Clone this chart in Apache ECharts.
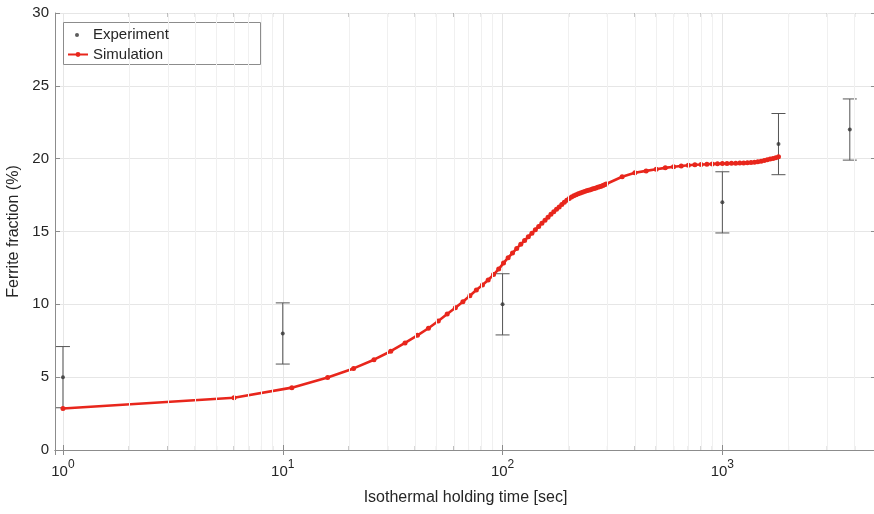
<!DOCTYPE html>
<html>
<head>
<meta charset="utf-8">
<script src="https://cdn.jsdelivr.net/npm/echarts@6/dist/echarts.min.js"></script>
<style>
  html, body { margin: 0; padding: 0; background: #fff; }
  #chart { width: 874px; height: 514px; }
</style>
</head>
<body>
<div id="chart"></div>
<script>
// Measured ferrite fraction with its scatter band
const expTime = [1, 10, 100, 1000, 1800, 3800];
const expFraction = [5.0, 8.0, 10.0, 17.0, 21.0, 22.0];
const expError = [2.1, 2.1, 2.1, 2.1, 2.1, 2.1];

// Simulated ferrite fraction over isothermal holding time (sec)
const simTime = [
  1, 6, 11, 16, 21, 26, 31, 36, 41, 46, 51, 56, 61, 66, 71, 76, 81, 86, 91, 96,
  101, 106, 111, 116, 121, 126, 131, 136, 141, 146, 151, 156, 161, 166, 171, 176, 181, 186, 191, 196,
  201, 206, 211, 216, 221, 226, 231, 236, 241, 246, 251, 256, 261, 266, 271, 276, 281, 286, 291, 296,
  350, 400, 450, 500, 550, 600, 650, 700, 750, 800, 850, 900, 950, 1000, 1050,
  1100, 1150, 1200, 1250, 1300, 1350, 1400, 1450, 1500, 1550, 1600, 1650, 1700, 1750, 1800
];
const simFraction = [
  2.85, 3.59, 4.28, 4.98, 5.60, 6.20, 6.78, 7.35, 7.87, 8.36, 8.86, 9.33, 9.76, 10.18, 10.59, 10.98, 11.33, 11.67, 12.04, 12.42,
  12.83, 13.20, 13.52, 13.84, 14.12, 14.38, 14.64, 14.88, 15.12, 15.35, 15.57, 15.78, 15.98, 16.18, 16.35, 16.52, 16.69, 16.85, 17.00, 17.14,
  17.27, 17.37, 17.46, 17.53, 17.59, 17.65, 17.70, 17.75, 17.79, 17.83, 17.87, 17.91, 17.95, 17.99, 18.03, 18.07, 18.11, 18.16, 18.21, 18.26,
  18.76, 19.03, 19.16, 19.27, 19.37, 19.45, 19.50, 19.55, 19.58, 19.60, 19.62, 19.64, 19.65, 19.66, 19.67,
  19.68, 19.69, 19.70, 19.71, 19.72, 19.74, 19.76, 19.79, 19.83, 19.87, 19.92, 19.97, 20.02, 20.07, 20.13
];

// Axis limits and the logarithmic minor tick positions
const xMin = 0.92;
const xMax = 5000;
const yMin = 0;
const yMax = 30;
const yStep = 5;
const xMinorTicks = [2, 3, 4, 5, 6, 7, 8, 9, 20, 30, 40, 50, 60, 70, 80, 90,
  200, 300, 400, 500, 600, 700, 800, 900, 2000, 3000, 4000];

const FONT = '"Liberation Sans", Arial, Helvetica, sans-serif';
const TEXT = '#262626';
const AXIS = '#8c8c8c';
const GRID = '#e6e6e6';
const MINOR_GRID = '#f0f0f0';
const RED = '#e8261c';

const chart = echarts.init(document.getElementById('chart'), null, { renderer: 'canvas' });

function powerLabel(v) {
  const p = Math.log10(v);
  const n = Math.round(p);
  if (Math.abs(p - n) > 0.01) return '';
  return '{b|10}{s|' + n + '}';
}

function errorBar(params, api) {
  const x = api.value(0), y = api.value(1), e = api.value(2);
  const hi = api.coord([x, y + e]);
  const lo = api.coord([x, y - e]);
  const w = 7;
  const style = { stroke: '#555', lineWidth: 1 };
  return {
    type: 'group',
    children: [
      { type: 'line', shape: { x1: hi[0], y1: hi[1], x2: lo[0], y2: lo[1] }, style },
      { type: 'line', shape: { x1: hi[0] - w, y1: hi[1], x2: hi[0] + w, y2: hi[1] }, style },
      { type: 'line', shape: { x1: lo[0] - w, y1: lo[1], x2: lo[0] + w, y2: lo[1] }, style }
    ]
  };
}

const option = {
  animation: false,
  textStyle: { fontFamily: FONT },
  grid: { left: 55, width: 821, top: 13, height: 437, containLabel: false, outerBoundsMode: 'none' },
  xAxis: [
    {
      type: 'log', logBase: 10, min: xMin, max: xMax, position: 'bottom',
      name: 'Isothermal holding time [sec]', nameLocation: 'middle', nameGap: 40,
      nameTextStyle: { fontSize: 16, color: TEXT, fontFamily: FONT },
      axisLine: { lineStyle: { color: AXIS, width: 1 } },
      axisTick: { inside: true, length: 5, lineStyle: { color: AXIS } },
      axisLabel: {
        margin: 9, color: TEXT, formatter: powerLabel,
        rich: {
          b: { fontSize: 15, fontFamily: FONT, color: TEXT, lineHeight: 20, verticalAlign: 'bottom' },
          s: { fontSize: 12, fontFamily: FONT, color: TEXT, lineHeight: 12, verticalAlign: 'top' }
        }
      },
      splitLine: { show: true, lineStyle: { color: GRID, width: 1 } }
    },
    {
      type: 'log', logBase: 10, min: xMin, max: xMax, position: 'top',
      axisLine: { lineStyle: { color: AXIS, width: 1 } },
      axisTick: { inside: true, length: 5, lineStyle: { color: AXIS } },
      axisLabel: { show: false },
      splitLine: { show: false }
    }
  ],
  yAxis: [
    {
      type: 'value', min: yMin, max: yMax, interval: yStep, position: 'left',
      name: 'Ferrite fraction (%)', nameLocation: 'middle', nameGap: 32,
      nameTextStyle: { fontSize: 16, color: TEXT, fontFamily: FONT },
      axisLine: { show: true, lineStyle: { color: AXIS, width: 1 } },
      axisTick: { show: true, inside: true, length: 5, lineStyle: { color: AXIS } },
      axisLabel: { fontSize: 15, color: TEXT, margin: 6, fontFamily: FONT },
      splitLine: { show: true, lineStyle: { color: GRID, width: 1 } }
    },
    {
      type: 'value', min: yMin, max: yMax, interval: yStep, position: 'right',
      axisLine: { show: true, lineStyle: { color: AXIS, width: 1 } },
      axisTick: { show: true, inside: true, length: 5, lineStyle: { color: AXIS } },
      axisLabel: { show: false },
      splitLine: { show: false }
    }
  ],
  legend: [
    {
      data: ['Experiment'], left: 75, top: 27.5, padding: 0,
      itemWidth: 22, itemHeight: 4, itemGap: 0, z: 6,
      textStyle: { fontSize: 15, color: TEXT, fontFamily: FONT }
    },
    {
      data: ['Simulation'], left: 67, top: 47, padding: 0,
      itemWidth: 20, itemHeight: 6, itemGap: 0, z: 6,
      textStyle: { fontSize: 15, color: TEXT, fontFamily: FONT }
    }
  ],
  graphic: [
    {
      type: 'rect', z: 5,
      shape: { x: 63.5, y: 22.5, width: 197, height: 42 },
      style: { fill: '#fff', stroke: AXIS, lineWidth: 1 }
    }
  ],
  series: [
    {
      // minor ticks along the bottom edge, plus minor grid lines at 2..9 of every decade
      type: 'scatter', xAxisIndex: 0, yAxisIndex: 0,
      symbol: 'rect', symbolSize: [1, 4], symbolOffset: [0, -2],
      itemStyle: { color: AXIS }, silent: true, z: 1,
      data: xMinorTicks.map(v => [v, yMin]),
      markLine: {
        silent: true, symbol: ['none', 'none'], label: { show: false },
        lineStyle: { color: MINOR_GRID, width: 1, type: 'solid' },
        emphasis: { disabled: true },
        data: xMinorTicks.map(v => ({ xAxis: v }))
      }
    },
    {
      // minor ticks along the top edge
      type: 'scatter', xAxisIndex: 0, yAxisIndex: 0,
      symbol: 'rect', symbolSize: [1, 4], symbolOffset: [0, 2],
      itemStyle: { color: AXIS }, silent: true, z: 1,
      data: xMinorTicks.map(v => [v, yMax])
    },
    {
      type: 'custom', xAxisIndex: 0, yAxisIndex: 0,
      renderItem: errorBar, silent: true, z: 2,
      encode: { x: 0, y: 1 },
      data: expTime.map((t, i) => [t, expFraction[i], expError[i]])
    },
    {
      name: 'Experiment', type: 'scatter', xAxisIndex: 0, yAxisIndex: 0,
      symbol: 'circle', symbolSize: 4, z: 3,
      itemStyle: { color: '#333' },
      data: expTime.map((t, i) => [t, expFraction[i]])
    },
    {
      name: 'Simulation', type: 'line', xAxisIndex: 0, yAxisIndex: 0,
      symbol: 'circle', symbolSize: 5, showAllSymbol: true, z: 4,
      lineStyle: { color: RED, width: 2.6 },
      itemStyle: { color: RED },
      data: simTime.map((t, i) => [t, simFraction[i]])
    }
  ]
};

chart.setOption(option);
</script>
</body>
</html>
